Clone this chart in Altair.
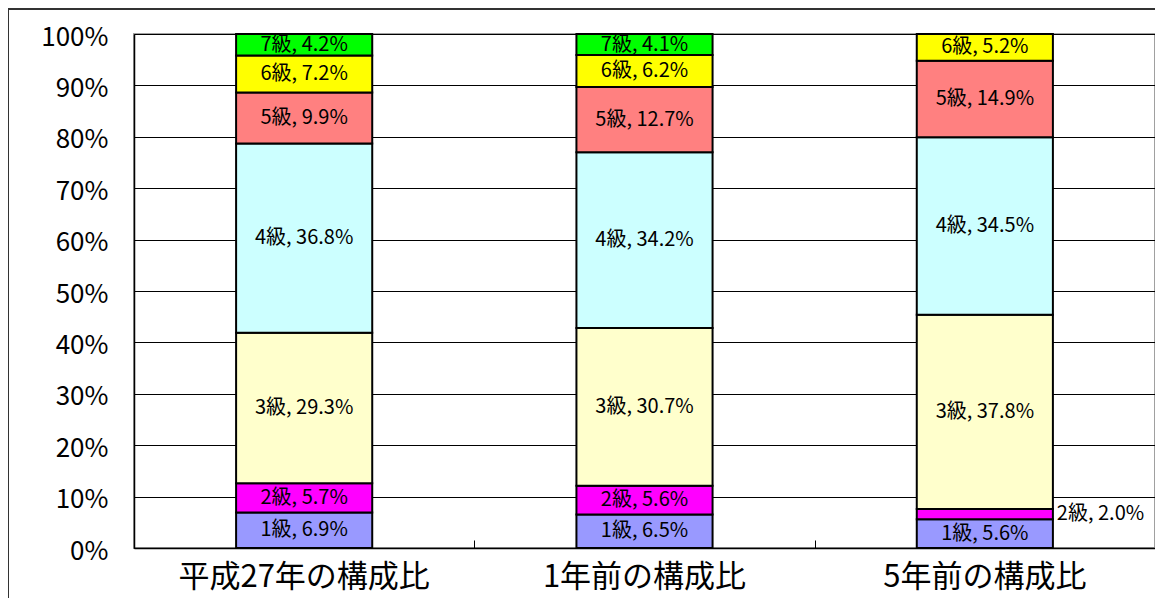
import altair as alt
import pandas as pd

categories = ["平成27年の構成比", "1年前の構成比", "5年前の構成比"]
grades = ["1級", "2級", "3級", "4級", "5級", "6級", "7級"]
colors = ["#9999FF", "#FF00FF", "#FFFFCC", "#CCFFFF", "#FF8080", "#FFFF00", "#00FF00"]

h27_values = [6.9, 5.7, 29.3, 36.8, 9.9, 7.2, 4.2]
y1_values = [6.5, 5.6, 30.7, 34.2, 12.7, 6.2, 4.1]
y5_values = [5.6, 2.0, 37.8, 34.5, 14.9, 5.2, None]

y_ticks = [0, 10, 20, 30, 40, 50, 60, 70, 80, 90, 100]

rows = []
for cat, vals in zip(categories, [h27_values, y1_values, y5_values]):
    for i, (g, v) in enumerate(zip(grades, vals)):
        if v is None:
            continue
        rows.append({"category": cat, "grade": g, "value": v, "ord": i})
df = pd.DataFrame(rows)

FONT = "Noto Sans CJK JP"
W, H = 1021, 514

base = (
    alt.Chart(df)
    .transform_stack(
        stack="value",
        groupby=["category"],
        as_=["v0", "v1"],
        sort=[alt.SortField("ord", order="ascending")],
    )
    .transform_calculate(
        mid="(datum.v0 + datum.v1) / 2",
        label="datum.grade + ', ' + format(datum.value, '.1f') + '%'",
    )
)

xscale = alt.Scale(paddingInner=0, paddingOuter=0)
yscale = alt.Scale(domain=[0, 100], nice=False)

bars = base.mark_bar(
    width=alt.RelativeBandSize(0.4), stroke="black", strokeWidth=2
).encode(
    x=alt.X(
        "category:N",
        sort=categories,
        scale=xscale,
        axis=alt.Axis(
            title=None,
            labelAngle=0,
            labelFont=FONT,
            labelFontSize=31,
            labelColor="black",
            labelPadding=14,
            labelLimit=600,
            ticks=False,
            domain=True,
            domainColor="black",
            domainWidth=1.5,
            grid=False,
        ),
    ),
    y=alt.Y(
        "v0:Q",
        scale=yscale,
        axis=alt.Axis(
            title=None,
            values=y_ticks,
            labelExpr="datum.value + '%'",
            labelFont=FONT,
            labelFontSize=26,
            labelColor="black",
            labelPadding=26,
            labelOffset=3,
            ticks=False,
            domain=True,
            domainColor="black",
            domainWidth=1.5,
            grid=True,
            gridColor="black",
            gridWidth=1,
            gridOpacity=1,
        ),
    ),
    y2="v1:Q",
    color=alt.Color(
        "grade:N",
        scale=alt.Scale(domain=grades, range=colors),
        legend=None,
    ),
)

inside = base.transform_filter("datum.value >= 3").mark_text(
    font=FONT, fontSize=20, color="black", align="center", baseline="middle"
).encode(
    x=alt.X(
        "category:N",
        sort=categories,
        scale=xscale,
        axis=alt.Axis(
            orient="top",
            offset=-H,
            title=None,
            labels=False,
            domain=False,
            ticks=True,
            tickBand="extent",
            tickSize=8,
            tickColor="black",
            tickWidth=1,
            grid=False,
        ),
    ),
    y=alt.Y(
        "mid:Q",
        scale=yscale,
        axis=alt.Axis(
            orient="right",
            offset=-W,
            title=None,
            values=y_ticks,
            labels=False,
            domain=False,
            ticks=True,
            tickSize=8,
            tickColor="black",
            tickWidth=1,
            grid=False,
        ),
    ),
    text="label:N",
)

outside = base.transform_filter("datum.value < 3").mark_text(
    font=FONT, fontSize=20, color="black", align="left", baseline="middle", dx=72
).encode(
    x=alt.X("category:N", sort=categories, scale=xscale, axis=None),
    y=alt.Y("mid:Q", scale=yscale, axis=None),
    text="label:N",
)

frame_top = alt.Chart(df).mark_rule(color="#333333", strokeWidth=1).encode(
    x=alt.value(-126), x2=alt.value(W + 10), y=alt.value(-25)
)
frame_left = alt.Chart(df).mark_rule(color="#333333", strokeWidth=1).encode(
    x=alt.value(-125.5), y=alt.value(-25), y2=alt.value(H + 60)
)

chart = (
    alt.layer(bars, inside, outside, frame_top, frame_left)
    .resolve_axis(x="independent", y="independent")
    .properties(
        width=W,
        height=H,
        autosize=alt.AutoSizeParams(type="none"),
        padding={"left": 126, "top": 26, "right": 0, "bottom": 50},
        background="white",
    )
    .configure_view(stroke="#A0A0A0", strokeWidth=2)
)

chart.save("out.html", embed_options={"renderer": "svg", "actions": False})
